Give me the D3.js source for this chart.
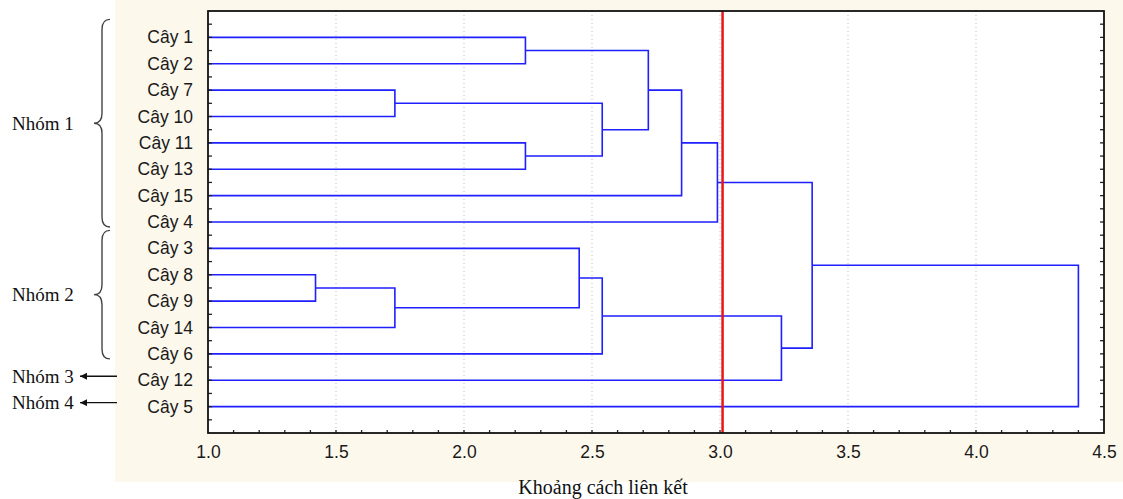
<!DOCTYPE html>
<html>
<head>
<meta charset="utf-8">
<script src="https://cdn.jsdelivr.net/npm/d3@7"></script>
<style>
  html, body { margin: 0; padding: 0; background: #fff; }
  svg { display: block; }
</style>
</head>
<body>
<svg id="chart"></svg>
<script>
// Leaf order as shown top to bottom
const leaves = ["Cây 1", "Cây 2", "Cây 7", "Cây 10", "Cây 11", "Cây 13", "Cây 15", "Cây 4",
  "Cây 3", "Cây 8", "Cây 9", "Cây 14", "Cây 6", "Cây 12", "Cây 5"];

// Linkage: [left, right, distance]; ids >= leaves.length are earlier merges
const linkage = [
  [9, 10, 1.42],
  [2, 3, 1.73],
  [15, 11, 1.73],
  [0, 1, 2.24],
  [4, 5, 2.24],
  [8, 17, 2.45],
  [16, 19, 2.54],
  [20, 12, 2.54],
  [18, 21, 2.72],
  [23, 6, 2.85],
  [24, 7, 2.99],
  [22, 13, 3.24],
  [25, 26, 3.36],
  [27, 14, 4.40]
];

const cutDistance = 3.01;
const xTicks = [1.0, 1.5, 2.0, 2.5, 3.0, 3.5, 4.0, 4.5];
const xMinorTicks = d3.range(11, 45).map(d => d / 10);
const xTitle = "Khoảng cách liên kết";

// Group annotations: [label, first leaf, last leaf]
const braceGroups = [["Nhóm 1", "Cây 1", "Cây 4"], ["Nhóm 2", "Cây 3", "Cây 6"]];
const arrowGroups = [["Nhóm 3", "Cây 12"], ["Nhóm 4", "Cây 5"]];

const W = 1123, H = 499;
const plot = { left: 208, right: 1104, top: 11, bottom: 433 };

const svg = d3.select('#chart').attr('width', W).attr('height', H);

svg.append('defs').append('marker')
  .attr('id', 'arrowhead')
  .attr('viewBox', '0 -5 10 10')
  .attr('refX', 10).attr('refY', 0)
  .attr('markerWidth', 9).attr('markerHeight', 7)
  .attr('markerUnits', 'userSpaceOnUse')
  .attr('orient', 'auto')
  .append('path').attr('d', 'M0,-5L10,0L0,5Z').attr('fill', '#111');

// beige panel
svg.append('rect').attr('x', 115).attr('y', 0).attr('width', W - 115).attr('height', 482)
  .attr('fill', '#fdf8ec');
svg.append('rect').attr('x', plot.left).attr('y', plot.top)
  .attr('width', plot.right - plot.left).attr('height', plot.bottom - plot.top)
  .attr('fill', '#fff');

const x = d3.scaleLinear().domain([1.0, 4.5]).range([plot.left, plot.right]);
const y = d3.scalePoint().domain(leaves).range([plot.top, plot.bottom]).padding(1);

// grid lines
svg.append('g').selectAll('line')
  .data(xTicks.slice(1, -1))
  .enter().append('line')
  .attr('x1', d => x(d)).attr('x2', d => x(d))
  .attr('y1', plot.top).attr('y2', plot.bottom)
  .attr('stroke', '#bdbdbd').attr('stroke-width', 1)
  .attr('stroke-dasharray', '1,3');

// build tree from linkage
const nodes = leaves.map(name => ({ name, dist: x.domain()[0] }));
linkage.forEach(([a, b, dist]) => nodes.push({ children: [nodes[a], nodes[b]], dist }));
const root = d3.hierarchy(nodes[nodes.length - 1]);
root.eachAfter(n => {
  n.py = n.children ? d3.mean(n.children, c => c.py) : y(n.data.name);
});

const linkPath = n => {
  const [c1, c2] = n.children;
  const xn = x(n.data.dist);
  return `M${x(c1.data.dist)},${c1.py}H${xn}V${c2.py}H${x(c2.data.dist)}`;
};

svg.append('g').selectAll('path')
  .data(root.descendants().filter(n => n.children))
  .enter().append('path')
  .attr('d', linkPath)
  .attr('fill', 'none')
  .attr('stroke', '#1f1fff')
  .attr('stroke-width', 1.6);

// cut line
svg.append('line')
  .attr('x1', x(cutDistance)).attr('x2', x(cutDistance))
  .attr('y1', plot.top).attr('y2', plot.bottom)
  .attr('stroke', '#e8161b').attr('stroke-width', 2.5);

// frame ticks (inside)
const halfSteps = d3.range(0.5, leaves.length + 1, 0.5);
const step = y.step();
const ticks = svg.append('g').attr('stroke', '#222').attr('stroke-width', 1.3);
halfSteps.forEach(k => {
  const yy = plot.top + k * step;
  ticks.append('line').attr('x1', plot.left).attr('x2', plot.left + 4).attr('y1', yy).attr('y2', yy);
  ticks.append('line').attr('x1', plot.right).attr('x2', plot.right - 4).attr('y1', yy).attr('y2', yy);
});
xMinorTicks.forEach(v => {
  ticks.append('line').attr('x1', x(v)).attr('x2', x(v)).attr('y1', plot.bottom).attr('y2', plot.bottom - 3);
});

// frame
svg.append('rect').attr('x', plot.left).attr('y', plot.top)
  .attr('width', plot.right - plot.left).attr('height', plot.bottom - plot.top)
  .attr('fill', 'none').attr('stroke', '#111').attr('stroke-width', 1.8);

// axes labels
const yAxis = svg.append('g')
  .attr('transform', `translate(${plot.left},0)`)
  .call(d3.axisLeft(y).tickSize(0).tickPadding(15));
yAxis.select('.domain').remove();
yAxis.selectAll('text')
  .attr('font-family', '"Liberation Sans", Arial, sans-serif')
  .attr('font-size', 17.5).attr('fill', '#1a1a1a');

const xAxis = svg.append('g')
  .attr('transform', `translate(0,${plot.bottom})`)
  .call(d3.axisBottom(x).tickValues(xTicks).tickFormat(d3.format('.1f')).tickSize(0).tickPadding(13));
xAxis.select('.domain').remove();
xAxis.selectAll('text')
  .attr('font-family', '"Liberation Sans", Arial, sans-serif')
  .attr('font-size', 17.5).attr('fill', '#1a1a1a');

// axis title
svg.append('text')
  .attr('x', 603).attr('y', 494)
  .attr('text-anchor', 'middle')
  .attr('font-family', '"Liberation Serif", "Times New Roman", serif')
  .attr('font-size', 20).attr('fill', '#111')
  .text(xTitle);

// braces
const bracePath = (y0, y1) => {
  const x0 = 110, xm = 102, xt = 94, r = 10, ym = (y0 + y1) / 2;
  return `M${x0},${y0}Q${xm},${y0} ${xm},${y0 + r}L${xm},${ym - r}Q${xm},${ym} ${xt},${ym}` +
    `Q${xm},${ym} ${xm},${ym + r}L${xm},${y1 - r}Q${xm},${y1} ${x0},${y1}`;
};
braceGroups.forEach(([label, first, last]) => {
  const y0 = y(first) - 18, y1 = y(last) + 5;
  svg.append('path').attr('d', bracePath(y0, y1))
    .attr('fill', 'none').attr('stroke', '#444').attr('stroke-width', 1.4);
  svg.append('text').attr('x', 12).attr('y', (y0 + y1) / 2).attr('dy', '0.35em')
    .attr('font-family', '"Liberation Serif", "Times New Roman", serif')
    .attr('font-size', 19).attr('fill', '#111')
    .text(label);
});
arrowGroups.forEach(([label, leaf]) => {
  const yy = y(leaf) - 4;
  svg.append('line').attr('x1', 117).attr('x2', 80).attr('y1', yy).attr('y2', yy)
    .attr('stroke', '#111').attr('stroke-width', 1.4)
    .attr('marker-end', 'url(#arrowhead)');
  svg.append('text').attr('x', 12).attr('y', yy).attr('dy', '0.35em')
    .attr('font-family', '"Liberation Serif", "Times New Roman", serif')
    .attr('font-size', 19).attr('fill', '#111')
    .text(label);
});
</script>
</body>
</html>
